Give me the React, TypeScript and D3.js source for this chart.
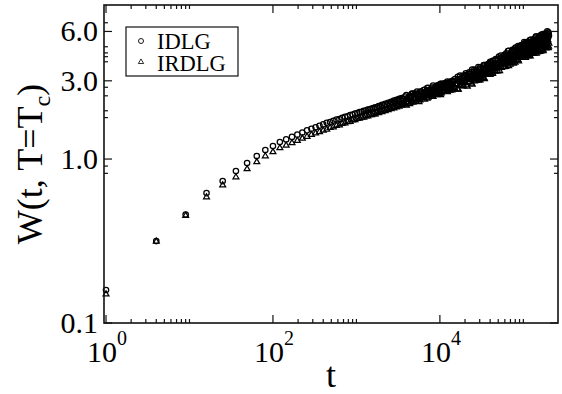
import React from "react";
import * as d3 from "d3";

const WIDTH = 562;
const HEIGHT = 394;
const FRAME = { left: 104, right: 558, top: 5, bottom: 323 };
const FONT = "'Liberation Serif', 'Times New Roman', serif";

// time steps t (main set)
const tValues = [
  1, 4, 9, 16, 25, 36, 49, 64, 81, 100, 121, 144, 169, 196, 225, 256, 289, 324, 361, 400,
  441, 484, 529, 576, 625, 676, 729, 784, 841, 900, 961, 1024, 1089, 1156, 1225, 1296, 1369, 1444, 1521, 1600,
  1681, 1764, 1849, 1936, 2025, 2116, 2209, 2304, 2401, 2500, 2601, 2704, 2809, 2916, 3025, 3136, 3249, 3364, 3481, 3600,
  3844, 4096, 4356, 4624, 4900, 5184, 5476, 5776, 6084, 6400, 6724, 7056, 7396, 7744, 8100, 8464, 8836, 9216, 9604, 10000,
  10404, 10816, 11236, 11664, 12100, 12544, 12996, 13456, 13924, 14400,
  15129, 15876, 16641, 17424, 18225, 19044, 19881, 20736, 21609, 22500, 23409, 24336, 25281, 26244, 27225,
  28224, 29241, 30276, 31329, 32400, 33489, 34596, 35721, 36864, 38025, 39204, 40401, 41616, 42849, 44100,
  45796, 47524, 49284, 51076, 52900, 54756, 56644, 58564, 60516, 62500, 64516, 66564, 68644, 70756, 72900,
  75076, 77284, 79524, 81796, 84100, 86436, 88804, 91204, 93636, 96100, 98596, 101124, 103684, 106276, 108900,
  111556, 114244, 116964, 119716, 122500, 125316, 128164, 131044, 133956, 136900, 139876, 142884, 145924, 148996, 152100,
  155236, 158404, 161604, 164836, 168100, 171396, 174724, 178084, 181476, 184900, 188356, 191844, 195364, 198916, 202500,
];

// W(t, T=Tc) for IDLG (circles), main set
const wIDLG = [
  0.159, 0.316, 0.459, 0.62, 0.734, 0.845, 0.946, 1.043, 1.135, 1.2, 1.27, 1.318, 1.365, 1.409, 1.452, 1.496, 1.531, 1.563, 1.596, 1.626,
  1.662, 1.683, 1.712, 1.738, 1.752, 1.786, 1.808, 1.822, 1.855, 1.868, 1.895, 1.908, 1.936, 1.943, 1.968, 1.978, 2.002, 2.01, 2.034, 2.046,
  2.07, 2.062, 2.105, 2.095, 2.14, 2.128, 2.17, 2.15, 2.205, 2.181, 2.235, 2.215, 2.27, 2.24, 2.3, 2.265, 2.33, 2.3, 2.355, 2.322,
  2.406, 2.347, 2.433, 2.507, 2.447, 2.495, 2.455, 2.566, 2.55, 2.637, 2.567, 2.707, 2.636, 2.616, 2.729, 2.628, 2.755, 2.803, 2.739, 2.744,
  2.873, 2.82, 2.795, 2.883, 2.799, 2.9, 2.947, 2.889, 2.993, 2.934,
  3.071, 2.892, 3.074, 3.229, 3.045, 3.137, 3.008, 3.26, 3.194, 3.383, 3.183, 3.508, 3.305, 3.23, 3.494,
  3.215, 3.515, 3.611, 3.429, 3.426, 3.743, 3.597, 3.52, 3.736, 3.509, 3.761, 3.869, 3.712, 3.972, 3.811,
  4.007, 3.775, 4.012, 4.212, 3.969, 4.089, 3.923, 4.252, 4.165, 4.415, 4.155, 4.578, 4.315, 4.219, 4.565,
  4.202, 4.594, 4.721, 4.485, 4.475, 4.881, 4.682, 4.576, 4.847, 4.549, 4.871, 5.001, 4.786, 5.107, 4.893,
  5.118, 4.799, 5.077, 5.308, 4.981, 5.111, 4.882, 5.268, 5.142, 5.428, 5.091, 5.592, 5.249, 5.115, 5.515,
  5.057, 5.516, 5.649, 5.35, 5.321, 5.787, 5.535, 5.395, 5.696, 5.326, 5.684, 5.82, 5.558, 5.921, 5.656,
];

// W(t, T=Tc) for IRDLG (triangles), main set
const wIRDLG = [
  0.15, 0.314, 0.452, 0.586, 0.693, 0.776, 0.869, 0.959, 1.042, 1.104, 1.167, 1.211, 1.253, 1.294, 1.334, 1.371, 1.406, 1.436, 1.466, 1.493,
  1.516, 1.552, 1.566, 1.598, 1.608, 1.642, 1.652, 1.684, 1.692, 1.724, 1.732, 1.76, 1.766, 1.792, 1.797, 1.825, 1.826, 1.855, 1.858, 1.88,
  1.88, 1.915, 1.908, 1.945, 1.938, 1.978, 1.965, 2.005, 1.992, 2.035, 2.02, 2.062, 2.045, 2.09, 2.07, 2.118, 2.095, 2.145, 2.12, 2.17,
  2.154, 2.232, 2.166, 2.245, 2.314, 2.256, 2.324, 2.286, 2.412, 2.361, 2.416, 2.341, 2.468, 2.45, 2.432, 2.537, 2.479, 2.46, 2.553, 2.596,
  2.522, 2.615, 2.592, 2.686, 2.596, 2.649, 2.638, 2.733, 2.626, 2.721,
  2.682, 2.849, 2.654, 2.823, 2.966, 2.794, 2.935, 2.817, 3.109, 2.956, 3.072, 2.856, 3.156, 3.089, 3.021,
  3.266, 3.1, 3.028, 3.234, 3.329, 3.132, 3.357, 3.288, 3.52, 3.279, 3.407, 3.368, 3.605, 3.319, 3.557,
  3.469, 3.685, 3.434, 3.65, 3.833, 3.609, 3.795, 3.642, 4.02, 3.824, 3.976, 3.694, 4.086, 3.956, 3.869,
  4.184, 3.973, 3.881, 4.16, 4.277, 4.017, 4.298, 4.204, 4.491, 4.18, 4.341, 4.283, 4.521, 4.152, 4.442,
  4.334, 4.582, 4.25, 4.499, 4.705, 4.413, 4.62, 4.413, 4.854, 4.599, 4.764, 4.413, 4.806, 4.689, 4.571,
  4.923, 4.664, 4.541, 4.852, 4.973, 4.656, 4.968, 4.846, 5.16, 4.785, 4.953, 4.873, 5.19, 4.76, 5.077,
];

// additional time steps in the dense late-time region
const tDense = [
  3721, 3969, 4225, 4489, 4761, 5041, 5329, 5625, 5929, 6241, 6561, 6889, 7225, 7569, 7921,
  8281, 8649, 9025, 9409, 9801, 10201, 10609, 11025, 11449, 11881, 12321, 12769, 13225, 13689, 14161,
  15625, 16384, 17161, 17956, 18769, 19600, 20449, 21316, 22201, 23104, 24025, 24964, 25921, 26896, 27889,
  28900, 29929, 30976, 32041, 33124, 34225, 35344, 36481, 37636, 38809, 40000, 41209, 42436, 43681,
  46656, 48400, 50176, 51984, 53824, 55696, 57600, 59536, 61504, 63504, 65536, 67600, 69696, 71824, 73984,
  76176, 78400, 80656, 82944, 85264, 87616, 90000, 92416, 94864, 97344, 99856, 102400, 104976, 107584, 110224,
  112896, 115600, 118336, 121104, 123904, 126736, 129600, 132496, 135424, 138384, 141376, 144400, 147456, 150544, 153664,
  156816, 160000, 163216, 166464, 169744, 173056, 176400, 179776, 183184, 186624, 190096, 193600, 197136, 200704,
];

const wIDLGDense = [
  2.31, 2.454, 2.384, 2.361, 2.508, 2.509, 2.582, 2.479, 2.578, 2.471, 2.648, 2.591, 2.718, 2.579, 2.679,
  2.807, 2.665, 2.765, 2.675, 2.833, 2.879, 2.784, 2.716, 2.903, 2.863, 2.965, 2.837, 2.94, 2.838, 3.001,
  2.913, 3.171, 3.019, 2.957, 3.221, 3.203, 3.329, 3.12, 3.293, 3.076, 3.399, 3.278, 3.507, 3.231, 3.411,
  3.643, 3.359, 3.542, 3.363, 3.661, 3.747, 3.564, 3.433, 3.795, 3.714, 3.914, 3.664, 3.866, 3.666,
  4.067, 3.833, 3.752, 4.112, 4.274, 4.068, 3.983, 4.314, 4.226, 4.051, 4.559, 4.252, 4.421, 4.237, 4.629,
  4.352, 4.612, 4.786, 4.319, 4.677, 4.573, 4.841, 4.498, 4.961, 4.806, 4.694, 5.162, 4.702, 5.026, 4.906,
  5.183, 4.863, 4.739, 5.17, 5.352, 5.074, 4.946, 5.335, 5.207, 4.972, 5.578, 5.183, 5.368, 5.127, 5.582,
  5.232, 5.528, 5.718, 5.145, 5.554, 5.413, 5.715, 5.294, 5.819, 5.617, 5.47, 6.001, 5.455, 5.817,
];

const wIRDLGDense = [
  2.207, 2.122, 2.299, 2.212, 2.212, 2.348, 2.301, 2.23, 2.39, 2.387, 2.312, 2.474, 2.375, 2.539, 2.434,
  2.404, 2.546, 2.514, 2.608, 2.498, 2.463, 2.607, 2.675, 2.587, 2.681, 2.564, 2.764, 2.619, 2.713, 2.674,
  2.84, 2.66, 2.983, 2.799, 2.785, 3.027, 2.925, 2.775, 3.067, 3.049, 2.893, 3.192, 2.989, 3.292, 3.084,
  3.013, 3.274, 3.204, 3.367, 3.154, 3.084, 3.36, 3.492, 3.32, 3.5, 3.273, 3.663, 3.38, 3.566,
  3.417, 3.776, 3.597, 3.448, 3.815, 3.814, 3.663, 3.963, 3.654, 3.919, 4.149, 3.869, 3.781, 4.092, 4.006,
  3.836, 4.151, 4.266, 4.012, 4.21, 3.947, 4.442, 4.219, 4.422, 4.152, 4.442, 4.247, 4.621, 4.253, 4.411,
  4.259, 4.685, 4.441, 4.24, 4.672, 4.652, 4.447, 4.794, 4.402, 4.705, 4.964, 4.561, 4.49, 4.841, 4.723,
  4.51, 4.865, 4.984, 4.672, 4.887, 4.568, 5.127, 4.855, 5.072, 4.745, 5.061, 4.882, 5.3, 4.868,
];

const xMajorTicks = [1, 100, 10000];
const xTickExponents = ["0", "2", "4"];
const xMinorTicks = [
  2, 3, 4, 5, 6, 7, 8, 9, 10,
  200, 300, 400, 500, 600, 700, 800, 900, 1000,
  20000, 30000, 40000, 50000, 60000, 70000, 80000, 90000, 100000,
];
const yMajorTicks = [0.1, 1, 3, 6];
const yTickLabels = ["0.1", "1.0", "3.0", "6.0"];
const yMinorTicks = [0.818, 0.906, 1.79, 1.97, 2.43, 2.74, 3.92, 4.21, 4.44, 4.84, 6.78];

const legendNames = ["IDLG", "IRDLG"];

const x = d3.scaleLog().domain([0.946, 2.6e5]).range([FRAME.left, FRAME.right]);
const y = d3.scaleLog().domain([0.1, 8.7]).range([FRAME.bottom, FRAME.top]);

const triR = 3.4;
const trianglePath = `M0,${-triR}L${triR * 0.866},${triR * 0.5}L${-triR * 0.866},${triR * 0.5}Z`;

const MAJ = 8;
const MIN = 4;
const AXIS_COLOR = "#111";
const MARK_W = 1.25;
const CIRCLE_R = 2.7;

const circlesData = [
  ...tValues.map((t, i) => ({ t, w: wIDLG[i] })),
  ...tDense.map((t, i) => ({ t, w: wIDLGDense[i] })),
];
const trianglesData = [
  ...tValues.map((t, i) => ({ t, w: wIRDLG[i] })),
  ...tDense.map((t, i) => ({ t, w: wIRDLGDense[i] })),
];

export default function App() {
  return (
    <svg
      width={WIDTH}
      height={HEIGHT}
      style={{ position: "absolute", left: 0, top: 0, background: "#fff" }}
      fontFamily={FONT}
    >
      <rect x={0} y={0} width={WIDTH} height={HEIGHT} fill="#fff" />

      <g fill="none" stroke="#000" strokeWidth={MARK_W}>
        {circlesData.map((d, i) => (
          <circle key={"c" + i} cx={x(d.t)} cy={y(d.w)} r={CIRCLE_R} />
        ))}
      </g>
      <g fill="none" stroke="#000" strokeWidth={MARK_W}>
        {trianglesData.map((d, i) => (
          <path key={"t" + i} d={trianglePath} transform={`translate(${x(d.t)},${y(d.w)})`} />
        ))}
      </g>

      <rect
        x={FRAME.left}
        y={FRAME.top}
        width={FRAME.right - FRAME.left}
        height={FRAME.bottom - FRAME.top}
        fill="none"
        stroke={AXIS_COLOR}
        strokeWidth={1.6}
      />

      <g stroke={AXIS_COLOR} strokeWidth={1.2}>
        {xMajorTicks.map((v) => (
          <g key={"xm" + v}>
            <line x1={x(v)} x2={x(v)} y1={FRAME.bottom} y2={FRAME.bottom - MAJ} />
            <line x1={x(v)} x2={x(v)} y1={FRAME.top} y2={FRAME.top + MAJ} />
          </g>
        ))}
        {xMinorTicks.map((v) => (
          <g key={"xn" + v}>
            <line x1={x(v)} x2={x(v)} y1={FRAME.bottom} y2={FRAME.bottom - MIN} />
            <line x1={x(v)} x2={x(v)} y1={FRAME.top} y2={FRAME.top + MIN} />
          </g>
        ))}
        {yMajorTicks.map((v) => (
          <g key={"ym" + v}>
            <line x1={FRAME.left} x2={FRAME.left + MAJ} y1={y(v)} y2={y(v)} />
            <line x1={FRAME.right} x2={FRAME.right - MAJ} y1={y(v)} y2={y(v)} />
          </g>
        ))}
        {yMinorTicks.map((v) => (
          <g key={"yn" + v}>
            <line x1={FRAME.left} x2={FRAME.left + MIN} y1={y(v)} y2={y(v)} />
            <line x1={FRAME.right} x2={FRAME.right - MIN} y1={y(v)} y2={y(v)} />
          </g>
        ))}
      </g>

      {xMajorTicks.map((v, i) => (
        <text key={"xl" + v} x={x(v) + 1} y={362} fontSize={30} textAnchor="middle" fill="#000">
          10
          <tspan fontSize={20} dy={-17}>
            {xTickExponents[i]}
          </tspan>
        </text>
      ))}

      {yMajorTicks.map((v, i) => (
        <text key={"yl" + v} x={98} y={y(v) + 10} fontSize={30} textAnchor="end" fill="#000">
          {yTickLabels[i]}
        </text>
      ))}

      <text x={(FRAME.left + FRAME.right) / 2} y={387} fontSize={36} textAnchor="middle" fill="#000">
        t
      </text>
      <text
        transform={`translate(42,${(FRAME.top + FRAME.bottom) / 2}) rotate(-90)`}
        fontSize={36}
        textAnchor="middle"
        fill="#000"
      >
        W(t, T=T
        <tspan fontSize={24} dy={8}>
          c
        </tspan>
        <tspan dy={-8}>)</tspan>
      </text>

      <rect x={126} y={27} width={112} height={49} fill="#fff" stroke={AXIS_COLOR} strokeWidth={1.2} />
      <circle cx={141} cy={41} r={2.5} fill="none" stroke="#000" strokeWidth={0.9} />
      <path d={trianglePath} transform="translate(141,62) scale(0.9)" fill="none" stroke="#000" strokeWidth={0.9} />
      <text x={157} y={49} fontSize={22.5} fill="#000">
        {legendNames[0]}
      </text>
      <text x={157} y={71} fontSize={22.5} fill="#000">
        {legendNames[1]}
      </text>
    </svg>
  );
}
